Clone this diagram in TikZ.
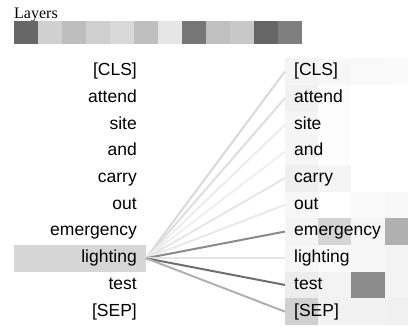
\documentclass[tikz,border=0pt]{standalone}
\usepackage{fontspec}
\setmainfont{Liberation Sans}
\newfontfamily\layersfont{Liberation Serif}
\begin{document}
\begin{tikzpicture}[x=1pt,y=-1pt,
  tok/.style={inner xsep=9pt,inner ysep=0pt,text height=12.3pt,text depth=3.5pt,
    minimum height=26.7pt,font=\fontsize{17.5}{20}\selectfont},
  lefttok/.style={tok,anchor=east,text width=114pt,align=right},
  righttok/.style={tok,anchor=west},
  attn/.style={line width=2pt}]
\useasboundingbox (0,0) rectangle (408,327);

% layer selector
\node[anchor=base west,inner sep=0pt,font=\layersfont\fontsize{16}{18}\selectfont] (layers) at (14,18) {Layers};
\foreach \c [count=\k from 0] in {676767,d0d0d0,bebebe,cfcfcf,d8d8d8,bfbfbf,e6e6e6,777777,c0c0c0,c8c8c8,666666,7f7f7f}{
  \definecolor{lc}{HTML}{\c}
  \fill[lc] (14+24*\k,21) rectangle ++(24,23);
}

% attention heat cells on the right
\foreach \row/\a/\b/\cc/\d in {
  0/f4f4f4/f7f7f7/f9f9f9/fafafa,
  1/f1f1f1/fcfcfc/ffffff/ffffff,
  2/f5f5f5/fdfdfd/ffffff/ffffff,
  3/f6f6f6/fdfdfd/ffffff/ffffff,
  4/efefef/f5f5f5/ffffff/ffffff,
  5/f7f7f7/ffffff/fafafa/f8f8f8,
  6/f4f4f4/d5d5d5/f6f6f6/b0b0b0,
  7/f6f6f6/fbfbfb/f7f7f7/f3f3f3,
  8/ededed/f3f3f3/8c8c8c/f3f3f3,
  9/d0d0d0/f2f2f2/f2f2f2/f0f0f0}{
  \definecolor{ca}{HTML}{\a}\definecolor{cb}{HTML}{\b}
  \definecolor{cc}{HTML}{\cc}\definecolor{cd}{HTML}{\d}
  \fill[ca] (285,58+26.7*\row) rectangle ++(33.2,26.7);
  \fill[cb] (318.2,58+26.7*\row) rectangle ++(33.2,26.7);
  \fill[cc] (351.4,58+26.7*\row) rectangle ++(33.2,26.7);
  \fill[cd] (384.6,58+26.7*\row) rectangle ++(33.2,26.7);
}

% highlighted source token
\fill[gray!32] (14,58+26.7*7) rectangle (146,58+26.7*8);

% tokens
\foreach \t [count=\k from 0] in {[CLS],attend,site,and,carry,out,emergency,lighting,test,[SEP]}{
  \node[lefttok] (L\k) at (146,71.35+26.7*\k) {\t};
  \node[righttok] (R\k) at (285,71.35+26.7*\k) {\t};
}

% attention lines from the selected token
\foreach \k/\c in {0/d9d9d9,1/dedede,2/ececec,3/efefef,4/e6e6e6,5/e9e9e9,6/8a8a8a,7/e5e5e5,8/6f6f6f,9/b0b0b0}{
  \definecolor{ac}{HTML}{\c}
  \draw[attn,ac] (L7.east) -- (R\k.west);
}
\end{tikzpicture}
\end{document}
